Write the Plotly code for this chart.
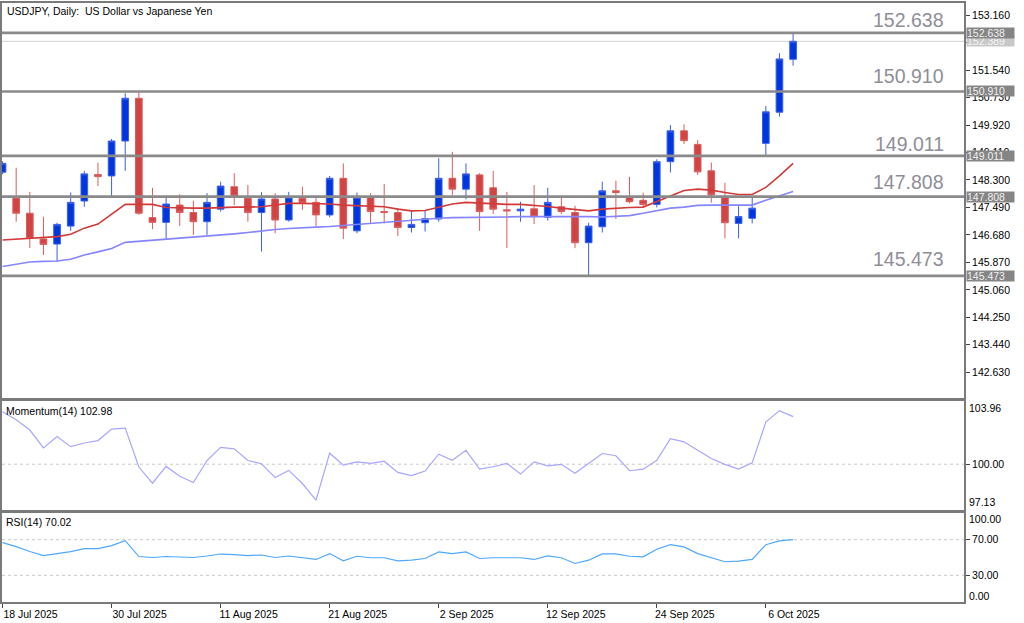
import pandas as pd
import plotly.graph_objects as go

# ---------------- data ----------------
dates = pd.bdate_range("2025-07-18", "2025-10-08").strftime("%d %b %Y").tolist()

open_ = [148.53, 147.76, 147.32, 146.56, 146.41, 146.94, 147.68, 148.46, 148.42, 149.45,
         150.71, 147.19, 147.05, 147.56, 147.34, 147.07, 147.44, 148.10, 147.76, 147.34,
         147.74, 147.12, 147.76, 147.64, 147.27, 148.35, 146.80, 147.78, 147.37, 147.34,
         146.90, 147.04, 147.15, 148.35, 148.03, 148.45, 148.07, 147.42, 147.39, 147.45,
         147.20, 147.51, 147.34, 146.45, 146.92, 147.98, 147.80, 147.70, 147.58, 148.84,
         149.75, 149.35, 148.57, 147.78, 147.02, 147.17, 149.38, 150.30, 151.86]
high = [148.85, 148.66, 147.95, 147.22, 147.04, 147.93, 148.57, 148.81, 149.51, 150.86,
        150.91, 148.07, 147.78, 147.88, 147.69, 147.91, 148.25, 148.50, 148.15, 147.94,
        147.91, 147.95, 148.10, 147.81, 148.42, 148.79, 147.93, 147.91, 148.18, 147.47,
        147.39, 147.39, 148.94, 149.13, 148.79, 148.50, 148.57, 147.95, 147.66, 148.15,
        148.07, 147.79, 147.54, 147.04, 148.25, 148.28, 148.39, 147.93, 148.91, 149.92,
        149.94, 149.48, 148.81, 148.22, 147.53, 147.81, 150.48, 152.04, 152.638]
low = [148.47, 147.07, 146.29, 146.09, 145.89, 146.80, 147.51, 148.12, 147.83, 148.57,
       147.27, 146.85, 146.56, 146.94, 146.68, 146.68, 147.37, 147.56, 147.07, 146.19,
       146.73, 147.07, 147.42, 146.94, 147.20, 146.56, 146.73, 147.02, 147.02, 146.65,
       146.75, 146.78, 147.07, 147.86, 147.73, 146.80, 147.30, 146.29, 147.07, 147.00,
       147.10, 147.30, 146.29, 145.473, 146.75, 147.15, 147.61, 147.51, 147.49, 148.52,
       149.36, 148.45, 147.63, 146.58, 146.58, 147.02, 149.011, 150.17, 151.67]
close = [148.79, 147.32, 146.58, 146.40, 146.99, 147.64, 148.48, 148.40, 149.45, 150.71,
         147.32, 147.05, 147.59, 147.34, 147.07, 147.64, 148.12, 147.83, 147.34, 147.74,
         147.12, 147.79, 147.63, 147.27, 148.35, 146.88, 147.78, 147.37, 147.34, 146.90,
         146.99, 147.16, 148.35, 148.03, 148.48, 147.37, 147.44, 147.39, 147.44, 147.22,
         147.64, 147.37, 146.45, 146.94, 147.98, 147.93, 147.66, 147.58, 148.84, 149.75,
         149.46, 148.54, 147.86, 147.04, 147.22, 147.47, 150.31, 151.87, 152.389]

ma_fast = [146.53, 146.56, 146.59, 146.60, 146.63, 146.70, 146.88, 147.00, 147.30, 147.58,
           147.58, 147.58, 147.49, 147.47, 147.47, 147.47, 147.49, 147.50, 147.50, 147.51,
           147.56, 147.61, 147.61, 147.61, 147.59, 147.56, 147.55, 147.53, 147.51, 147.44,
           147.39, 147.40, 147.49, 147.59, 147.64, 147.62, 147.59, 147.58, 147.58, 147.56,
           147.52, 147.47, 147.43, 147.39, 147.44, 147.47, 147.49, 147.50, 147.66, 147.83,
           147.99, 148.03, 148.00, 147.93, 147.87, 147.87, 148.08, 148.42, 148.79]
ma_slow = [145.75, 145.82, 145.88, 145.90, 145.91, 145.96, 146.09, 146.18, 146.28, 146.46,
           146.49, 146.52, 146.56, 146.58, 146.60, 146.63, 146.66, 146.71, 146.75, 146.80,
           146.84, 146.87, 146.88, 146.91, 146.93, 146.96, 146.99, 147.02, 147.06, 147.09,
           147.13, 147.15, 147.17, 147.19, 147.19, 147.20, 147.21, 147.21, 147.22, 147.22,
           147.23, 147.23, 147.24, 147.22, 147.21, 147.22, 147.25, 147.32, 147.40, 147.47,
           147.50, 147.55, 147.56, 147.56, 147.56, 147.56, 147.70, 147.83, 147.96]

momentum = [103.28, 102.78, 102.14, 101.02, 101.74, 101.10, 101.33, 101.48, 102.20, 102.26,
            99.82, 98.81, 99.86, 99.24, 98.85, 100.23, 101.06, 100.96, 100.23, 100.03,
            99.16, 99.61, 98.79, 97.75, 100.69, 99.94, 100.15, 100.05, 100.19, 99.49,
            99.28, 99.57, 100.63, 100.25, 100.87, 99.69, 99.84, 100.05, 99.38, 100.15,
            99.90, 99.99, 99.43, 100.05, 100.67, 100.53, 99.59, 99.69, 100.25, 101.60,
            101.40, 100.87, 100.36, 99.99, 99.69, 100.08, 102.64, 103.36, 102.98]
rsi = [66.7, 62.2, 56.7, 52.2, 54.4, 56.7, 60.0, 60.0, 63.3, 68.9,
       51.1, 50.0, 51.1, 50.6, 50.0, 51.7, 53.9, 53.3, 52.2, 52.8,
       50.0, 51.7, 50.0, 47.8, 54.4, 46.3, 51.4, 49.7, 49.7, 46.3,
       47.0, 48.9, 56.3, 54.4, 56.3, 48.9, 49.7, 49.7, 49.7, 47.8,
       51.9, 49.7, 43.3, 47.0, 54.1, 54.1, 51.4, 50.8, 59.3, 64.4,
       61.9, 54.4, 49.7, 45.2, 45.9, 47.8, 64.4, 68.6, 70.02]

levels = [152.638, 150.910, 149.011, 147.808, 145.473]
bid = 152.389
price_ticks = [153.160, 152.350, 151.540, 150.730, 149.920, 149.110, 148.300,
               147.490, 146.680, 145.870, 145.060, 144.250, 143.440, 142.630]
mom_range = [97.13, 103.96]
mom_level = [100.00]
rsi_range = [0.0, 100.0]
rsi_levels = [70.0, 30.0]
xlabel_idx = [0, 8, 16, 24, 32, 40, 48, 56]
xlabels = ["18 Jul 2025", "30 Jul 2025", "11 Aug 2025", "21 Aug 2025",
           "2 Sep 2025", "12 Sep 2025", "24 Sep 2025", "6 Oct 2025"]

# ---------------- style ----------------
W, H = 1024, 623
FONT = "Liberation Sans"
X0, X1 = 2, 964
def py(px):
    return 1 - px / H

x = list(range(len(dates)))
BLUE = "#0036DE"
RED = "#D24343"
GRID = "#7a7a7a"

fig = go.Figure()
fig.add_trace(go.Candlestick(
    x=x, open=open_, high=high, low=low, close=close,
    increasing=dict(line=dict(color="#3A5FEA", width=1), fillcolor=BLUE),
    decreasing=dict(line=dict(color="#DA5C5C", width=1), fillcolor=RED),
    whiskerwidth=0, hoverinfo="skip", xaxis="x", yaxis="y", showlegend=False))
fig.add_trace(go.Scatter(x=x, y=ma_fast, mode="lines", line=dict(color="#D23A3A", width=1.6),
                         xaxis="x", yaxis="y", hoverinfo="skip", showlegend=False))
fig.add_trace(go.Scatter(x=x, y=ma_slow, mode="lines", line=dict(color="#8585FF", width=1.6),
                         xaxis="x", yaxis="y", hoverinfo="skip", showlegend=False))
fig.add_trace(go.Scatter(x=x, y=momentum, mode="lines", line=dict(color="#A6A6FF", width=1.2),
                         xaxis="x2", yaxis="y2", hoverinfo="skip", showlegend=False))
fig.add_trace(go.Scatter(x=x, y=rsi, mode="lines", line=dict(color="#4FA8FF", width=1.2),
                         xaxis="x3", yaxis="y3", hoverinfo="skip", showlegend=False))

xr = [-0.04, -0.04 + (X1 - X0) / 13.63]
xdom = [X0 / W, X1 / W]
axline = dict(showline=True, linecolor=GRID, linewidth=2, mirror=True,
              showgrid=False, zeroline=False)
tickfont = dict(family=FONT, size=10.5, color="#000000")
tagfont = dict(family=FONT, size=10.5)

shapes = []
annotations = []
for lv in levels:
    shapes.append(dict(type="line", xref="x domain", x0=0, x1=1, yref="y", y0=lv, y1=lv,
                       line=dict(color="#8a8a8a", width=2.6), layer="above"))
shapes.append(dict(type="line", xref="x domain", x0=0, x1=1, yref="y", y0=bid, y1=bid,
                   line=dict(color="#d2d2d2", width=1), layer="below"))
for lv in mom_level:
    shapes.append(dict(type="line", xref="x2 domain", x0=0, x1=1, yref="y2", y0=lv, y1=lv,
                       line=dict(color="#c8c8c8", width=1, dash="3px,3px"), layer="below"))
for lv in rsi_levels:
    shapes.append(dict(type="line", xref="x3 domain", x0=0, x1=1, yref="y3", y0=lv, y1=lv,
                       line=dict(color="#c8c8c8", width=1, dash="3px,3px"), layer="below"))

# big level texts
shifts = [13, 15, 12, 15, 17]
for lv, sh in zip(levels, shifts):
    annotations.append(dict(text=f"{lv:.3f}", xref="paper", x=946 / W, xanchor="right",
                            yref="y", y=lv, yanchor="middle", yshift=sh, showarrow=False,
                            font=dict(family=FONT, size=19.5, color="#8e8e98")))
# right axis tags (bid tag first so the level tags sit on top of it)
annotations.append(dict(text=f"{bid:.3f}", xref="paper", x=966 / W, xanchor="left",
                        yref="y", y=bid, yanchor="middle", showarrow=False,
                        bgcolor="#c8c8c8", borderpad=0, width=47, height=10, align="left",
                        font=dict(color="#f4f4f4", **tagfont)))
for lv in levels:
    annotations.append(dict(text=f"{lv:.3f}", xref="paper", x=966 / W, xanchor="left",
                            yref="y", y=lv, yanchor="middle", showarrow=False,
                            bgcolor="#858585", borderpad=0, width=47, height=10, align="left",
                            font=dict(color="#f0f0f0", **tagfont)))
# indicator range labels
for val, ref, anc, sh in [(mom_range[1], "y2", "top", 1), (mom_range[0], "y2", "bottom", 0),
                          (rsi_range[1], "y3", "top", 2), (rsi_range[0], "y3", "bottom", -2)]:
    annotations.append(dict(text=f"{val:.2f}", xref="paper", x=967 / W, xanchor="left",
                            yref=ref, y=val, yanchor=anc, yshift=sh, showarrow=False,
                            font=tickfont))
# titles
annotations.append(dict(text="USDJPY, Daily:  US Dollar vs Japanese Yen", xref="paper",
                        x=5 / W, xanchor="left", yref="paper", y=py(11), yanchor="middle",
                        showarrow=False, font=tickfont))
annotations.append(dict(text=f"Momentum(14) {momentum[-1]:.2f}", xref="paper",
                        x=4 / W, xanchor="left", yref="paper", y=py(410.5), yanchor="middle",
                        showarrow=False, font=tickfont))
annotations.append(dict(text=f"RSI(14) {rsi[-1]:.2f}", xref="paper",
                        x=4 / W, xanchor="left", yref="paper", y=py(521.5), yanchor="middle",
                        showarrow=False, font=tickfont))

fig.update_layout(
    width=W, height=H, margin=dict(l=0, r=0, t=0, b=0),
    paper_bgcolor="white", plot_bgcolor="white", showlegend=False,
    xaxis=dict(domain=xdom, range=xr, anchor="y", showticklabels=False, ticks="",
               rangeslider=dict(visible=False), **axline),
    xaxis2=dict(domain=xdom, range=xr, anchor="y2", matches="x", showticklabels=False,
                ticks="", **axline),
    xaxis3=dict(domain=xdom, range=xr, anchor="y3", matches="x", tickvals=xlabel_idx,
                ticktext=xlabels, ticks="outside", ticklen=4, tickcolor="#444",
                ticklabelshift=28, ticklabelstandoff=-3, tickfont=tickfont, **axline),
    yaxis=dict(domain=[py(398), py(3)], range=[141.87, 153.52], anchor="x", side="right",
               tickvals=price_ticks, tickformat=".3f", ticks="outside", ticklen=4,
               tickcolor="#444", tickfont=tickfont, **axline),
    yaxis2=dict(domain=[py(510), py(401)], range=mom_range, anchor="x2", side="right",
                tickvals=mom_level, tickformat=".2f", ticks="outside", ticklen=4,
                tickcolor="#444", tickfont=tickfont, **axline),
    yaxis3=dict(domain=[py(602), py(513)], range=rsi_range, anchor="x3", side="right",
                tickvals=rsi_levels, tickformat=".2f", ticks="outside", ticklen=4,
                tickcolor="#444", tickfont=tickfont, **axline),
    shapes=shapes, annotations=annotations,
)
fig.write_html("out.html")
